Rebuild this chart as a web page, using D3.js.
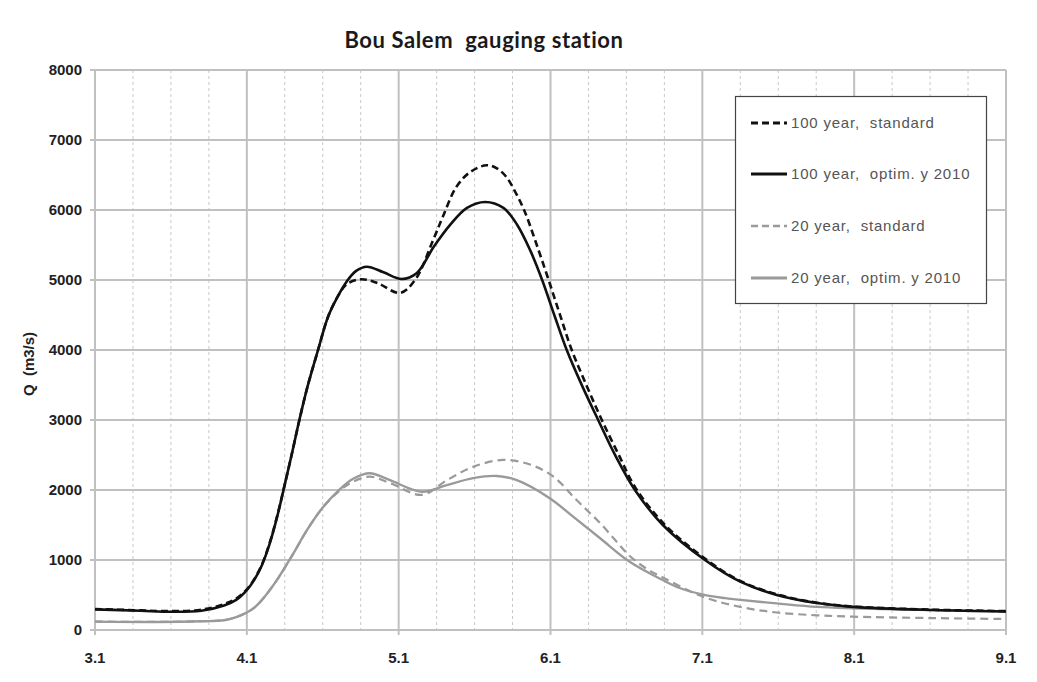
<!DOCTYPE html>
<html>
<head>
<meta charset="utf-8">
<script src="https://cdn.jsdelivr.net/npm/d3@7"></script>
<style>
    body { margin: 0; background: #fff; }
    #graphDiv { width: 1037px; height: 682px; }
    text { white-space: pre; }
</style>
</head>
<body>
<div id="graphDiv"></div>
<script>
/**
 * Bou Salem gauging station - flood hydrographs
 */

// axis ticks //
var xTicks = [3.1, 4.1, 5.1, 6.1, 7.1, 8.1, 9.1];
var yTicks = [0, 1000, 2000, 3000, 4000, 5000, 6000, 7000, 8000];

// series: [time, Q (m3/s)] //
var std100 = [
    [3.1, 300], [3.4, 280], [3.6, 270], [3.8, 290], [3.95, 370], [4.03, 450], [4.1, 580],
    [4.15, 730], [4.2, 940], [4.25, 1240], [4.3, 1630], [4.35, 2080], [4.4, 2550], [4.446, 3000],
    [4.5, 3480], [4.569, 4000], [4.635, 4476], [4.7, 4770], [4.758, 4940], [4.85, 5010],
    [4.956, 4960], [5.109, 4815], [5.208, 5000], [5.327, 5570], [5.39, 5900], [5.48, 6330],
    [5.57, 6540], [5.68, 6640], [5.75, 6590], [5.81, 6470], [5.87, 6250], [5.93, 5980],
    [6.0, 5560], [6.08, 5050], [6.16, 4520], [6.24, 4000], [6.34, 3480], [6.438, 3000],
    [6.55, 2500], [6.66, 2030], [6.85, 1510], [7.117, 1020], [7.35, 700], [7.59, 510],
    [7.854, 390], [8.093, 335], [8.62, 290], [9.1, 270]
];
var opt100 = [
    [3.1, 295], [3.4, 275], [3.6, 260], [3.8, 275], [3.95, 350], [4.03, 430], [4.1, 570],
    [4.15, 720], [4.2, 930], [4.25, 1230], [4.3, 1620], [4.35, 2080], [4.4, 2550], [4.446, 3000],
    [4.5, 3480], [4.569, 4000], [4.635, 4476], [4.7, 4770], [4.758, 4980], [4.82, 5130],
    [4.89, 5190], [5.0, 5110], [5.12, 5014], [5.22, 5100], [5.33, 5470], [5.44, 5790],
    [5.55, 6030], [5.67, 6115], [5.79, 6030], [5.88, 5790], [5.965, 5430], [6.045, 5000],
    [6.125, 4500], [6.207, 4000], [6.31, 3480], [6.414, 3000], [6.53, 2480], [6.656, 2000],
    [6.84, 1500], [7.117, 1000], [7.35, 690], [7.59, 500], [7.854, 385], [8.093, 330],
    [8.62, 285], [9.1, 265]
];
var std20 = [
    [3.1, 120], [3.5, 115], [3.8, 125], [3.95, 140], [4.03, 185], [4.1, 250], [4.15, 320],
    [4.2, 430], [4.3, 720], [4.4, 1070], [4.5, 1440], [4.6, 1750], [4.7, 1970], [4.8, 2120],
    [4.91, 2190], [5.043, 2100], [5.252, 1930], [5.417, 2140], [5.59, 2330], [5.79, 2430],
    [5.97, 2360], [6.12, 2190], [6.27, 1860], [6.36, 1670], [6.43, 1520], [6.52, 1300],
    [6.62, 1060], [6.73, 880], [6.84, 750], [7.105, 475], [7.35, 330], [7.59, 250],
    [7.854, 210], [8.093, 190], [8.62, 170], [9.1, 157]
];
var opt20 = [
    [3.1, 120], [3.5, 115], [3.8, 125], [3.95, 140], [4.03, 185], [4.1, 250], [4.15, 320],
    [4.2, 430], [4.3, 720], [4.4, 1070], [4.5, 1440], [4.6, 1750], [4.7, 1985], [4.8, 2160],
    [4.91, 2240], [5.043, 2140], [5.252, 1976], [5.417, 2070], [5.59, 2170], [5.746, 2200],
    [5.878, 2140], [6.097, 1880], [6.249, 1620], [6.427, 1310], [6.624, 970], [6.842, 710],
    [6.95, 600], [7.105, 505], [7.25, 455], [7.35, 430], [7.59, 380], [7.854, 330],
    [8.093, 310], [8.62, 285], [9.1, 265]
];

var seriesNames = ["100 year,  standard", "100 year,  optim. y 2010", "20 year,  standard", "20 year,  optim. y 2010"];

(function () {

    var w = 1037, h = 682;
    var left = 95, right = 1006, top = 70, bottom = 630;

    var svg = d3.select("#graphDiv")
        .append("svg")
        .attr("width", w)
        .attr("height", h);

    var xScale = d3.scaleLinear().domain([3.1, 9.1]).range([left, right]);
    var yScale = d3.scaleLinear().domain([0, 8000]).range([bottom, top]);

    // minor vertical grid every quarter unit (dashed)
    var minor = [];
    for (var i = 0; i < xTicks.length - 1; i++) {
        for (var k = 1; k < 4; k++) {
            minor.push(xTicks[i] + k * 0.25);
        }
    }
    svg.append("g").attr("class", "minor-grid")
        .selectAll("line").data(minor).enter().append("line")
        .attr("x1", function (d) { return xScale(d); })
        .attr("x2", function (d) { return xScale(d); })
        .attr("y1", yScale(8000))
        .attr("y2", yScale(0))
        .attr("stroke", "#c8c8c8")
        .attr("stroke-width", 1)
        .attr("stroke-dasharray", "3,3");

    // major grid
    svg.append("g").attr("class", "hgrid")
        .selectAll("line").data(yTicks).enter().append("line")
        .attr("x1", left - 5)
        .attr("x2", right)
        .attr("y1", function (d) { return yScale(d); })
        .attr("y2", function (d) { return yScale(d); })
        .attr("stroke", "#c0c0c0")
        .attr("stroke-width", 2);

    svg.append("g").attr("class", "vgrid")
        .selectAll("line").data(xTicks).enter().append("line")
        .attr("x1", function (d) { return xScale(d); })
        .attr("x2", function (d) { return xScale(d); })
        .attr("y1", yScale(8000))
        .attr("y2", yScale(0) + 5)
        .attr("stroke", "#c0c0c0")
        .attr("stroke-width", 2);

    // tick labels
    svg.append("g").attr("class", "y labels")
        .selectAll("text").data(yTicks).enter().append("text")
        .attr("x", 82)
        .attr("y", function (d) { return yScale(d); })
        .attr("dy", "0.35em")
        .attr("text-anchor", "end")
        .attr("style", "font: bold 15px 'Liberation Sans', Arial, sans-serif; fill:#222;")
        .text(function (d) { return d; });

    svg.append("g").attr("class", "x labels")
        .selectAll("text").data(xTicks).enter().append("text")
        .attr("x", function (d) { return xScale(d); })
        .attr("y", 663)
        .attr("text-anchor", "middle")
        .attr("style", "font: bold 15px 'Liberation Sans', Arial, sans-serif; fill:#222;")
        .text(function (d) { return d3.format(".1f")(d); });

    // title & axis label
    svg.append("text")
        .attr("x", 484)
        .attr("y", 48)
        .attr("text-anchor", "middle")
        .attr("style", "font: bold 22px Lato, 'Open Sans', sans-serif; fill:#1a1a1a; letter-spacing:0.6px;")
        .text("Bou Salem  gauging station");

    svg.append("text")
        .attr("transform", "translate(34,364) rotate(-90)")
        .attr("text-anchor", "middle")
        .attr("style", "font: bold 15px 'Liberation Sans', Arial, sans-serif; fill:#222;")
        .text("Q  (m3/s)");

    // lines
    var lineFunc = d3.line()
        .curve(d3.curveCatmullRom.alpha(0.5))
        .x(function (d) { return xScale(d[0]); })
        .y(function (d) { return yScale(d[1]); });

    var styles = [
        { data: std100, stroke: "#111", width: 2.6, dash: "7,4" },
        { data: opt100, stroke: "#111", width: 2.6, dash: null },
        { data: std20, stroke: "#9a9a9a", width: 2.2, dash: "8,5" },
        { data: opt20, stroke: "#9a9a9a", width: 2.4, dash: null }
    ];

    var lines = svg.append("g").attr("class", "lines");
    // draw the 20 year curves first so black curves sit on top
    [2, 3, 0, 1].forEach(function (i) {
        var s = styles[i];
        lines.append("path")
            .attr("d", lineFunc(s.data))
            .attr("fill", "none")
            .attr("stroke", s.stroke)
            .attr("stroke-width", s.width)
            .attr("stroke-dasharray", s.dash);
    });

    // legend
    var legend = svg.append("g").attr("class", "legend");
    legend.append("rect")
        .attr("x", 735.5)
        .attr("y", 96.5)
        .attr("width", 251)
        .attr("height", 207)
        .attr("fill", "#fff")
        .attr("stroke", "#444")
        .attr("stroke-width", 1.2);

    var rowY = [123, 174, 226, 278];
    styles.forEach(function (s, i) {
        legend.append("line")
            .attr("x1", 751).attr("x2", 787)
            .attr("y1", rowY[i]).attr("y2", rowY[i])
            .attr("stroke", s.stroke)
            .attr("stroke-width", s.width + 0.4)
            .attr("stroke-dasharray", s.dash ? "7,4" : null);
        legend.append("text")
            .attr("x", 791)
            .attr("y", rowY[i])
            .attr("dy", "0.35em")
            .attr("style", "font: 15px 'Liberation Sans', Arial, sans-serif; fill:#555; letter-spacing:0.8px;")
            .text(seriesNames[i]);
    });

})();
</script>
</body>
</html>
